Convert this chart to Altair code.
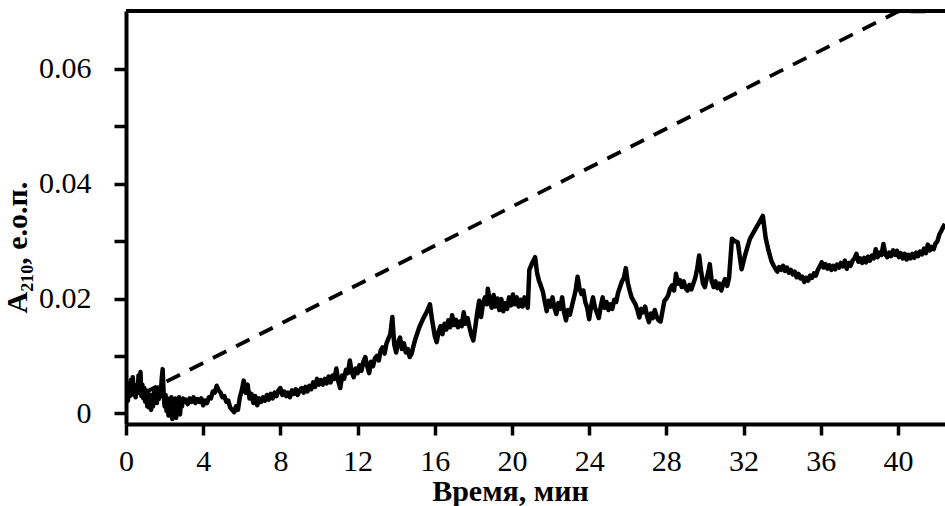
import altair as alt
import pandas as pd

# ---- data (time in min, absorbance) ----
t_a = [0.0, 0.05, 0.1, 0.15, 0.2, 0.25, 0.3, 0.35, 0.4, 0.45, 0.5, 0.55, 0.6, 0.65, 0.7,
       0.75, 0.8, 0.85, 0.9, 0.95, 1.0, 1.05, 1.1, 1.15, 1.2, 1.25, 1.3, 1.35, 1.4, 1.45,
       1.5, 1.55, 1.6, 1.65, 1.7, 1.75, 1.8, 1.85, 1.9, 1.95, 2.0, 2.05, 2.1, 2.15, 2.2,
       2.25, 2.3, 2.35, 2.4, 2.45, 2.5, 2.55, 2.6, 2.65, 2.7, 2.75, 2.8, 2.85, 2.9, 2.95, 3.0]
a_a = [0.0030, 0.0048, 0.0022, 0.0052, 0.0030, 0.0058, 0.0040, 0.0063, 0.0032, 0.0050,
       0.0028, 0.0046, 0.0035, 0.0066, 0.0040, 0.0072, 0.0030, 0.0050, 0.0026, 0.0044,
       0.0020, 0.0040, 0.0012, 0.0036, 0.0010, 0.0032, 0.0006, 0.0030, 0.0012, 0.0038,
       0.0020, 0.0042, 0.0018, 0.0045, 0.0025, 0.0040, 0.0030, 0.0060, 0.0077, 0.0035,
       0.0012, 0.0032, 0.0004, 0.0026, -0.0004, 0.0022, 0.0002, 0.0028, -0.0010, 0.0018,
       0.0000, 0.0026, -0.0008, 0.0020, 0.0006, 0.0028, -0.0002, 0.0024, 0.0012, 0.0026,
       0.0020]

t_b = [3.1, 3.2, 3.3, 3.4, 3.5, 3.6, 3.7, 3.8, 3.9, 4.0, 4.1, 4.2, 4.3, 4.4, 4.5, 4.6, 4.7,
       4.8, 4.9, 5.0, 5.1, 5.2, 5.3, 5.4, 5.5, 5.6, 5.7, 5.8, 5.9, 6.0, 6.1, 6.2, 6.3, 6.4,
       6.5, 6.6, 6.7, 6.8, 6.9, 7.0, 7.1, 7.2, 7.3, 7.4, 7.5, 7.6, 7.7, 7.8, 7.9, 8.0]
a_b = [0.0024, 0.0016, 0.0026, 0.0020, 0.0028, 0.0018, 0.0025, 0.0020, 0.0026, 0.0014,
       0.0022, 0.0018, 0.0028, 0.0026, 0.0038, 0.0036, 0.0048, 0.0040, 0.0036, 0.0028,
       0.0030, 0.0020, 0.0022, 0.0010, 0.0006, 0.0002, 0.0012, 0.0006, 0.0028, 0.0040,
       0.0057, 0.0036, 0.0050, 0.0026, 0.0034, 0.0018, 0.0030, 0.0014, 0.0026, 0.0020,
       0.0028, 0.0022, 0.0032, 0.0024, 0.0034, 0.0026, 0.0036, 0.0030, 0.0040, 0.0044]

t_c = [8.1, 8.2, 8.3, 8.4, 8.5, 8.6, 8.7, 8.8, 8.9, 9.0, 9.1, 9.2, 9.3, 9.4, 9.5, 9.6,
       9.7, 9.8, 9.9, 10.0, 10.1, 10.2, 10.3, 10.4, 10.5, 10.6, 10.7, 10.8, 10.9, 11.0,
       11.1, 11.2, 11.3, 11.4, 11.5, 11.6, 11.7, 11.8, 11.9, 12.0, 12.1, 12.2, 12.3, 12.4,
       12.5, 12.6, 12.7, 12.8, 12.9, 13.0, 13.1, 13.2, 13.3, 13.4, 13.5, 13.6, 13.7, 13.8,
       13.9, 14.0]
a_c = [0.0032, 0.0038, 0.0030, 0.0036, 0.0028, 0.0040, 0.0034, 0.0042, 0.0032, 0.0040,
       0.0044, 0.0036, 0.0046, 0.0038, 0.0048, 0.0042, 0.0054, 0.0046, 0.0060, 0.0050,
       0.0058, 0.0050, 0.0060, 0.0052, 0.0064, 0.0054, 0.0066, 0.0060, 0.0078, 0.0056,
       0.0044, 0.0066, 0.0060, 0.0076, 0.0070, 0.0092, 0.0072, 0.0063, 0.0078, 0.0070,
       0.0084, 0.0074, 0.0090, 0.0098, 0.0082, 0.0070, 0.0090, 0.0082, 0.0096, 0.0100,
       0.0092, 0.0110, 0.0115, 0.0104, 0.0122, 0.0130, 0.0138, 0.0168, 0.0120, 0.0106]

t_d = [14.1, 14.2, 14.3, 14.4, 14.5, 14.6, 14.7, 14.8, 14.9, 15.0, 15.2, 15.4, 15.6,
       15.75, 15.85, 16.0, 16.1, 16.2, 16.3, 16.4, 16.5, 16.6, 16.7, 16.8, 16.9, 17.0,
       17.1, 17.2, 17.3, 17.4, 17.5, 17.6, 17.7, 17.8, 17.9, 18.0]
a_d = [0.0124, 0.0132, 0.0112, 0.0122, 0.0106, 0.0112, 0.0098, 0.0104, 0.0118, 0.0130,
       0.0150, 0.0165, 0.0178, 0.0190, 0.0165, 0.0135, 0.0124, 0.0142, 0.0152, 0.0138,
       0.0156, 0.0146, 0.0162, 0.0150, 0.0171, 0.0154, 0.0163, 0.0150, 0.0160, 0.0152,
       0.0176, 0.0156, 0.0166, 0.0150, 0.0136, 0.0127]

t_e = [18.1, 18.2, 18.3, 18.4, 18.5, 18.6, 18.7, 18.75, 18.85, 18.95, 19.05, 19.15,
       19.25, 19.35, 19.45, 19.55, 19.65, 19.75, 19.85, 19.95, 20.05, 20.15, 20.25, 20.35,
       20.45, 20.55, 20.65, 20.75, 20.82, 20.9, 21.05, 21.2, 21.3, 21.4, 21.5, 21.6, 21.7,
       21.8]
a_e = [0.0150, 0.0175, 0.0196, 0.0168, 0.0192, 0.0202, 0.0190, 0.0217, 0.0196, 0.0184,
       0.0206, 0.0186, 0.0200, 0.0180, 0.0199, 0.0178, 0.0192, 0.0182, 0.0202, 0.0188,
       0.0207, 0.0190, 0.0202, 0.0186, 0.0198, 0.0186, 0.0202, 0.0192, 0.0184, 0.0250,
       0.0262, 0.0272, 0.0245, 0.0231, 0.0222, 0.0212, 0.0195, 0.0178]

t_f = [21.9, 22.0, 22.1, 22.2, 22.3, 22.4, 22.5, 22.6, 22.7, 22.8, 22.9, 23.0, 23.1, 23.2,
       23.3, 23.4, 23.5, 23.6, 23.7, 23.8, 23.9, 24.0, 24.1, 24.2, 24.3, 24.4, 24.5, 24.6,
       24.7, 24.8, 24.9, 25.0, 25.1, 25.2, 25.3, 25.4, 25.5, 25.6, 25.7, 25.8, 25.9, 26.0,
       26.1, 26.2, 26.3, 26.4, 26.5, 26.6, 26.7, 26.8, 26.9, 27.0, 27.1, 27.2, 27.3, 27.4,
       27.5, 27.6, 27.7, 27.8, 27.9, 28.0]
a_f = [0.0196, 0.0186, 0.0202, 0.0184, 0.0173, 0.0192, 0.0182, 0.0202, 0.0176, 0.0162,
       0.0180, 0.0172, 0.0186, 0.0200, 0.0214, 0.0238, 0.0218, 0.0208, 0.0214, 0.0194,
       0.0184, 0.0164, 0.0186, 0.0202, 0.0184, 0.0176, 0.0166, 0.0186, 0.0202, 0.0184,
       0.0194, 0.0180, 0.0190, 0.0182, 0.0198, 0.0194, 0.0210, 0.0220, 0.0230, 0.0236,
       0.0253, 0.0228, 0.0214, 0.0202, 0.0196, 0.0190, 0.0180, 0.0167, 0.0182, 0.0176,
       0.0186, 0.0170, 0.0159, 0.0174, 0.0166, 0.0180, 0.0168, 0.0162, 0.0160, 0.0178,
       0.0196, 0.0200]

t_g = [28.1, 28.2, 28.3, 28.4, 28.5, 28.6, 28.7, 28.8, 28.9, 29.0, 29.1, 29.2, 29.3,
       29.4, 29.5, 29.6, 29.7, 29.8, 29.9, 30.0, 30.1, 30.2, 30.25, 30.35, 30.45, 30.55,
       30.65, 30.75, 30.85, 30.95, 31.04, 31.15, 31.25]
a_g = [0.0206, 0.0218, 0.0223, 0.0214, 0.0243, 0.0226, 0.0232, 0.0220, 0.0230, 0.0218,
       0.0214, 0.0224, 0.0216, 0.0226, 0.0236, 0.0252, 0.0275, 0.0248, 0.0226, 0.0220,
       0.0236, 0.0250, 0.0260, 0.0230, 0.0220, 0.0230, 0.0218, 0.0226, 0.0214, 0.0226,
       0.0234, 0.0222, 0.0236]

t_h = [31.4, 31.55, 31.7, 31.9, 32.1, 32.33, 32.6, 32.8, 33.0, 33.15, 33.3, 33.45,
       33.55, 33.65, 33.75, 33.85, 33.95, 34.05]
a_h = [0.0304, 0.0300, 0.0298, 0.0251, 0.0278, 0.0304, 0.0320, 0.0332, 0.0344, 0.0305,
       0.0283, 0.0265, 0.0258, 0.0252, 0.0247, 0.0255, 0.0250, 0.0257]

t_i = [34.15, 34.25, 34.35, 34.45, 34.55, 34.65, 34.75, 34.85, 34.95, 35.05,
       35.15, 35.25, 35.35, 35.45, 35.55, 35.65, 35.75, 35.85, 35.95, 36.05,
       36.15, 36.25, 36.35, 36.45, 36.55, 36.65, 36.75, 36.85, 36.95, 37.05,
       37.15, 37.25, 37.35, 37.45, 37.55, 37.65, 37.75, 37.85, 37.95, 38.05,
       38.15, 38.25, 38.35, 38.45, 38.55, 38.65, 38.75, 38.85, 38.95, 39.05,
       39.15, 39.25, 39.35, 39.45, 39.55, 39.65, 39.75, 39.85, 39.95, 40.05,
       40.15, 40.25, 40.35, 40.45, 40.55, 40.65, 40.75, 40.85, 40.95, 41.05,
       41.15, 41.25, 41.35, 41.45, 41.55, 41.65, 41.75, 41.85, 41.95, 42.05,
       42.15, 42.25, 42.35, 42.44]
a_i = [0.0248, 0.0254, 0.0245, 0.0250, 0.0242, 0.0247, 0.0237, 0.0243, 0.0235, 0.0238,
       0.0229, 0.0236, 0.0231, 0.0240, 0.0236, 0.0244, 0.0240, 0.0250, 0.0256, 0.0263,
       0.0254, 0.0260, 0.0252, 0.0258, 0.0250, 0.0257, 0.0251, 0.0259, 0.0254, 0.0262,
       0.0256, 0.0266, 0.0252, 0.0262, 0.0257, 0.0266, 0.0270, 0.0278, 0.0264, 0.0270,
       0.0262, 0.0271, 0.0263, 0.0273, 0.0266, 0.0275, 0.0270, 0.0286, 0.0272, 0.0280,
       0.0276, 0.0295, 0.0277, 0.0272, 0.0280, 0.0274, 0.0284, 0.0276, 0.0283, 0.0272,
       0.0279, 0.0270, 0.0278, 0.0268, 0.0276, 0.0270, 0.0278, 0.0271, 0.0280, 0.0274,
       0.0282, 0.0277, 0.0287, 0.0279, 0.0294, 0.0284, 0.0290, 0.0286, 0.0296, 0.0300,
       0.0312, 0.0318, 0.0325, 0.0330]

dashed_time = [0.9, 10.0, 20.0, 30.0, 40.0, 42.44]
dashed_value = [0.0035, 0.0190, 0.0360, 0.0530, 0.0700, 0.0740]

x_ticks = list(range(0, 43))
y_ticks = [0.0, 0.005, 0.01, 0.015, 0.02, 0.025, 0.03, 0.035, 0.04, 0.045,
           0.05, 0.055, 0.06, 0.065]

x_title = "Время, мин"
y_title = "A₂₁₀, е.о.п."

time_min = t_a + t_b + t_c + t_d + t_e + t_f + t_g + t_h + t_i
absorbance = a_a + a_b + a_c + a_d + a_e + a_f + a_g + a_h + a_i
assert len(time_min) == len(absorbance)

solid_df = pd.DataFrame({"t": time_min, "a": absorbance})
dash_df = pd.DataFrame({"t": dashed_time, "a": dashed_value})

W, H = 819, 413
FONT = "Liberation Serif"

x_scale = alt.Scale(domain=[0, 42.44], nice=False, zero=False)
y_scale = alt.Scale(domain=[-0.00186, 0.0701], nice=False, zero=False, clamp=True)

x_axis = alt.Axis(
    values=x_ticks,
    labelExpr="datum.value % 4 === 0 ? datum.label : ''",
    tickSize={"condition": {"test": "datum.value % 2 === 0", "value": 11}, "value": 6},
    labelPadding=11,
    labelFlush=False,
    labelOverlap=False,
    labelBound=False,
    labelFont=FONT,
    labelFontSize=30,
    labelColor="black",
    title=x_title,
    titleFont=FONT,
    titleFontSize=30,
    titleFontWeight="bold",
    titleColor="black",
    titleX=384,
    titleY=76,
    titleAlign="center",
    titleBaseline="alphabetic",
    grid=False,
)

y_axis = alt.Axis(
    values=y_ticks,
    labelExpr="round(datum.value * 1000) % 20 === 0 ? (datum.value === 0 ? '0' : format(datum.value, '.2f')) : ''",
    tickSize={"condition": {"test": "round(datum.value * 1000) % 10 === 0", "value": 12}, "value": 6},
    labelPadding=23,
    labelOverlap=False,
    labelBound=False,
    labelFlush=False,
    labelFont=FONT,
    labelFontSize=30,
    labelColor="black",
    title=y_title,
    titleFont=FONT,
    titleFontSize=30,
    titleFontWeight="bold",
    titleColor="black",
    titleAngle=270,
    titleX=-100,
    titleY=236,
    titleAlign="center",
    titleBaseline="alphabetic",
    grid=False,
)

solid = alt.Chart(solid_df).mark_line(
    color="black", strokeWidth=4.5, strokeJoin="round", clip=True
).encode(
    x=alt.X("t:Q", scale=x_scale, axis=x_axis),
    y=alt.Y("a:Q", scale=y_scale, axis=y_axis),
)

dashed = alt.Chart(dash_df).mark_line(
    color="black", strokeWidth=3.8, strokeDash=[15, 11], clip=True
).encode(
    x=alt.X("t:Q", scale=x_scale),
    y=alt.Y("a:Q", scale=y_scale),
)

top_border = alt.Chart(alt.Data(values=[{}])).mark_rule(
    color="black", strokeWidth=4
).encode(
    x=alt.value(0), x2=alt.value(W), y=alt.value(0)
)

chart = alt.layer(dashed, solid, top_border).properties(
    width=W,
    height=H,
    padding={"left": 126, "top": 11, "right": 0, "bottom": 82},
    autosize=alt.AutoSizeParams(type="none"),
    background="white",
).configure_view(
    stroke=None
).configure_axis(
    domainColor="black",
    domainWidth=4,
    tickColor="black",
    tickWidth=3.5,
)

chart.save("out.html", embed_options={"renderer": "svg", "actions": False})
